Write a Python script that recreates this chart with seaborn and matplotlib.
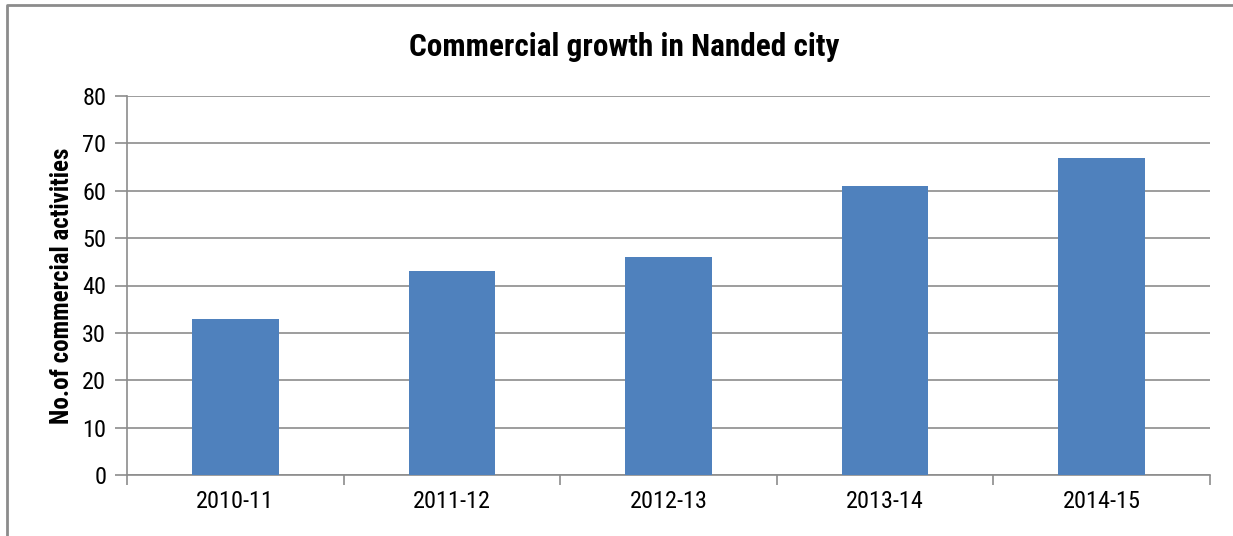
import numpy as np
import pandas as pd
import matplotlib.pyplot as plt
import seaborn as sns
from matplotlib import font_manager
from matplotlib.lines import Line2D

# data
years = ["2010-11", "2011-12", "2012-13", "2013-14", "2014-15"]
activities = [33, 43, 46, 61, 67]
yticks = [0, 10, 20, 30, 40, 50, 60, 70, 80]

df = pd.DataFrame({"year": years, "count": activities})

sns.set_style("white")
names = {f.name for f in font_manager.fontManager.ttflist}
fam = "Liberation Sans"
for cand in ["Liberation Sans Narrow", "Arial Narrow", "Roboto Condensed", "Open Sans Condensed"]:
    if cand in names:
        fam = cand
        break
plt.rcParams["font.family"] = [fam, "DejaVu Sans"]
plt.rcParams["text.color"] = "black"
plt.rcParams["axes.labelcolor"] = "black"
plt.rcParams["xtick.color"] = "black"
plt.rcParams["ytick.color"] = "black"

fig = plt.figure(figsize=(12.33, 5.36), dpi=100)
ax = fig.add_axes([127 / 1233, 1 - 475 / 536, (1210 - 127) / 1233, (475 - 96) / 536])

sns.barplot(data=df, x="year", y="count", color="#4F81BD", width=0.4,
            saturation=1, linewidth=0, ax=ax, zorder=3)

grid_c = "#8c8c8c"
ax.set_ylim(0, 80)
ax.set_xlim(-0.5, len(years) - 0.5)
ax.set_yticks(yticks)
ax.set_yticklabels([str(v) for v in yticks], fontsize=17.5)
ax.yaxis.grid(True, color=grid_c, linewidth=1.2, zorder=0)
ax.set_axisbelow(True)

# category boundaries get the ticks, labels sit in the middle
ax.set_xticks(np.arange(-0.5, len(years), 1.0))
ax.set_xticklabels([])
ax.set_xticks(np.arange(len(years)), minor=True)
ax.set_xticklabels(years, minor=True, fontsize=17.5)
ax.tick_params(axis="x", which="major", bottom=True, length=7, width=1.2,
               color=grid_c, direction="out")
ax.tick_params(axis="x", which="minor", bottom=True, length=0, pad=11)
ax.tick_params(axis="y", left=True, length=9, width=1.2, color=grid_c,
               direction="out", pad=6)

for s in ["top", "right"]:
    ax.spines[s].set_visible(False)
for s in ["left", "bottom"]:
    ax.spines[s].set_color(grid_c)
    ax.spines[s].set_linewidth(1.2)

ax.set_xlabel("")
ax.set_ylabel("No.of commercial activities", fontsize=18, fontweight="bold", labelpad=6)
fig.text(624 / 1233, 1 - 47 / 536, "Commercial growth in Nanded city", ha="center",
         va="center", fontsize=22.5, fontweight="bold")

# outer frame of the chart object (only left and top edges visible)
fx, fy = 7 / 1233, 1 - 5 / 536
fig.add_artist(Line2D([fx, fx, 1.0], [0.0, fy, fy], transform=fig.transFigure,
                      color="#8c8c8c", linewidth=2))

fig.savefig("out.png", dpi=100)
